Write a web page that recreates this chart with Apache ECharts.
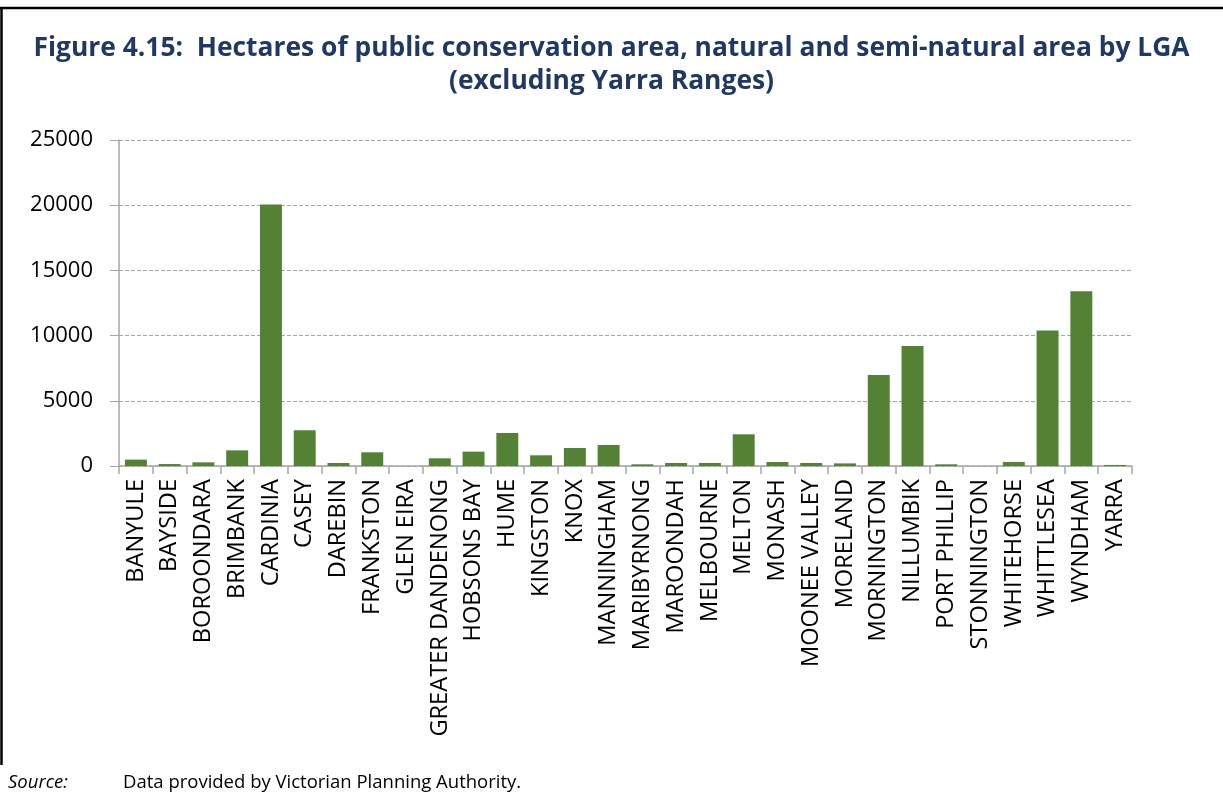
<!DOCTYPE html>
<html>
<head>
<meta charset="utf-8">
<script src="https://cdn.jsdelivr.net/npm/echarts@6/dist/echarts.min.js"></script>
<style>
  html, body { margin: 0; padding: 0; background: #ffffff; }
  #chart { width: 1223px; height: 795px; }
</style>
</head>
<body>
<div id="chart"></div>
<script>
// Local government areas (metropolitan Melbourne, excluding Yarra Ranges)
const lgaNames = [
  'BANYULE', 'BAYSIDE', 'BOROONDARA', 'BRIMBANK', 'CARDINIA', 'CASEY',
  'DAREBIN', 'FRANKSTON', 'GLEN EIRA', 'GREATER DANDENONG', 'HOBSONS BAY',
  'HUME', 'KINGSTON', 'KNOX', 'MANNINGHAM', 'MARIBYRNONG', 'MAROONDAH',
  'MELBOURNE', 'MELTON', 'MONASH', 'MOONEE VALLEY', 'MORELAND',
  'MORNINGTON', 'NILLUMBIK', 'PORT PHILLIP', 'STONNINGTON', 'WHITEHORSE',
  'WHITTLESEA', 'WYNDHAM', 'YARRA'
];

// Hectares of public conservation, natural and semi-natural area
const hectares = [
  490, 150, 280, 1200, 20050, 2740,
  230, 1050, 0, 590, 1100,
  2530, 820, 1380, 1610, 130, 230,
  230, 2430, 305, 230, 200,
  6970, 9200, 130, 0, 310,
  10400, 13400, 80
];

// Value axis ticks
const yTicks = [0, 5000, 10000, 15000, 20000, 25000];

const titleLines = [
  'Figure 4.15:  Hectares of public conservation area, natural and semi-natural area by LGA',
  '(excluding Yarra Ranges)'
];
const sourceLabel = 'Source:';
const sourceText = 'Data provided by Victorian Planning Authority.';

const FONT = '"Open Sans", "Noto Sans", sans-serif';
const AXIS_GREY = '#a6a6a6';

const chart = echarts.init(document.getElementById('chart'), null, { renderer: 'canvas' });

chart.setOption({
  backgroundColor: '#ffffff',
  animation: false,
  title: {
    text: titleLines.join('\n'),
    left: 'center',
    top: 27,
    textStyle: {
      fontFamily: FONT,
      fontWeight: 'bold',
      fontSize: 26.4,
      lineHeight: 33,
      color: '#1f3864'
    }
  },
  grid: {
    left: 119,
    right: 91,
    top: 140,
    bottom: 329,
    containLabel: false
  },
  xAxis: {
    type: 'category',
    data: lgaNames,
    axisLine: { show: true, lineStyle: { color: AXIS_GREY, width: 1.5 } },
    axisTick: { show: true, alignWithLabel: false, length: 8, lineStyle: { color: AXIS_GREY, width: 1.5 } },
    axisLabel: {
      interval: 0,
      rotate: 90,
      margin: 13,
      fontFamily: FONT,
      fontSize: 23.6,
      color: '#000000'
    },
    splitLine: { show: false }
  },
  yAxis: {
    type: 'value',
    min: yTicks[0],
    max: yTicks[yTicks.length - 1],
    interval: yTicks[1] - yTicks[0],
    axisLine: { show: true, lineStyle: { color: AXIS_GREY, width: 1.5 } },
    axisTick: { show: true, inside: false, length: 9, lineStyle: { color: AXIS_GREY, width: 1 } },
    axisLabel: {
      margin: 26,
      fontFamily: FONT,
      fontSize: 22,
      color: '#000000',
      formatter: (v) => String(v)
    },
    splitLine: {
      show: true,
      lineStyle: { color: AXIS_GREY, type: [4, 2], width: 1 }
    }
  },
  series: [{
    type: 'bar',
    data: hectares,
    barCategoryGap: '35%',
    itemStyle: {
      color: '#548235'
    }
  }],
  graphic: [
    // frame: top and left rules
    {
      type: 'line',
      shape: { x1: 0, y1: 8, x2: 1223, y2: 8 },
      style: { stroke: '#000000', lineWidth: 2.5 },
      silent: true
    },
    {
      type: 'line',
      shape: { x1: 1.5, y1: 8, x2: 1.5, y2: 765 },
      style: { stroke: '#000000', lineWidth: 2.5 },
      silent: true
    },
    {
      type: 'text',
      left: 8,
      top: 773,
      style: {
        text: sourceLabel,
        fontFamily: FONT,
        fontStyle: 'italic',
        fontSize: 18.5,
        fill: '#000000'
      }
    },
    {
      type: 'text',
      left: 123,
      top: 773,
      style: {
        text: sourceText,
        fontFamily: FONT,
        fontSize: 18.5,
        fill: '#000000'
      }
    }
  ]
});
</script>
</body>
</html>
